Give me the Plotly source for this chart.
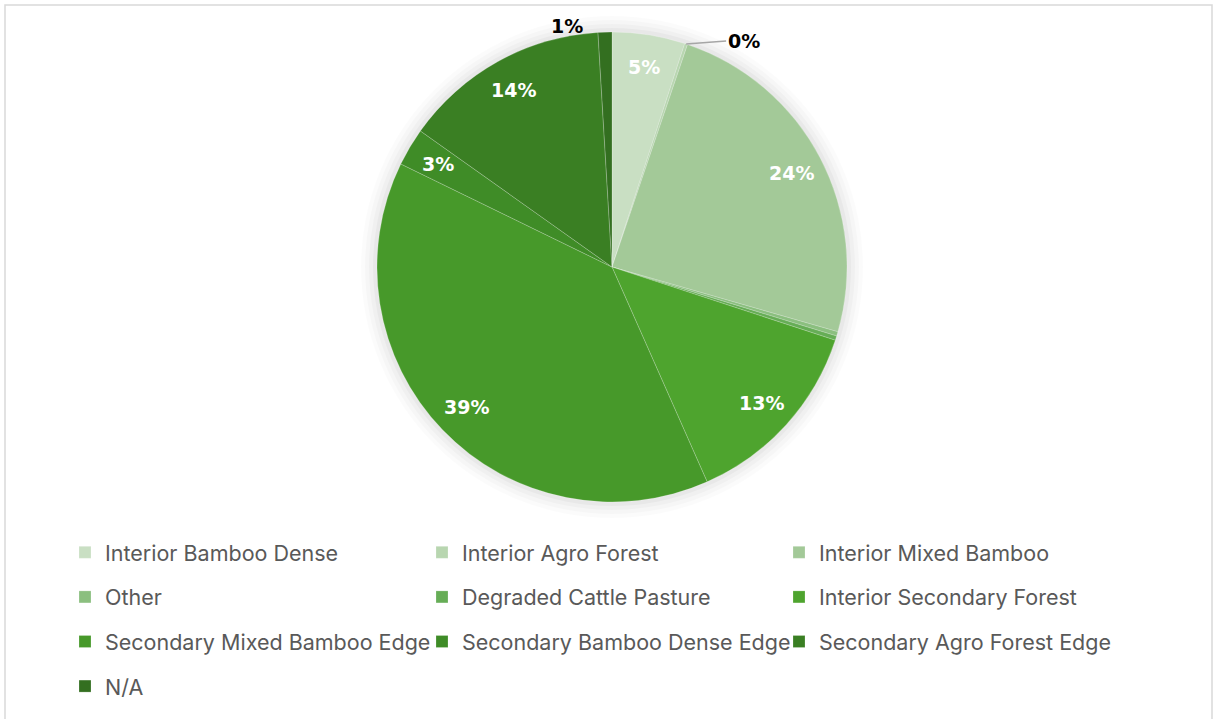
import math
import plotly.graph_objects as go

# Share of sampled area by habitat class (%)
categories = [
    "Interior Bamboo Dense",
    "Interior Agro Forest",
    "Interior Mixed Bamboo",
    "Other",
    "Degraded Cattle Pasture",
    "Interior Secondary Forest",
    "Secondary Mixed Bamboo Edge",
    "Secondary Bamboo Dense Edge",
    "Secondary Agro Forest Edge",
    "N/A",
]
shares = [5.0, 0.2, 24.2, 0.3, 0.3, 13.3, 38.8, 2.6, 14.2, 0.95]

colors = [
    "#c9dfc3", "#b8d6b0", "#a3c998", "#8bbf7f", "#66ad56",
    "#4ea42e", "#47992a", "#3f8c27", "#3a7f23", "#336f20",
]
# how each slice's percentage label is shown
label_mode = ["inside", "leader", "inside", "hidden", "hidden",
              "inside", "inside", "inside", "inside", "above"]

W, H = 1215, 719
cx, cy, r = 612, 267, 235

legend_labels = [
    f"<span style='font-size:21.5px;baseline-shift:4px'>{c}</span>" for c in categories
]

fig = go.Figure(
    go.Pie(
        labels=legend_labels,
        values=shares,
        sort=False,
        direction="clockwise",
        rotation=0,
        marker=dict(colors=colors, line=dict(color="rgba(255,255,255,0.35)", width=0.6)),
        textinfo="none",
        domain=dict(x=[(cx - r) / W, (cx + r) / W], y=[1 - (cy + r) / H, 1 - (cy - r) / H]),
        hoverinfo="label+percent",
    )
)


def polar_to_paper(angle_deg, rad):
    """Clockwise angle from 12 o'clock and radius in px -> paper coords."""
    a = math.radians(angle_deg)
    px = cx + rad * math.sin(a)
    py = cy - rad * math.cos(a)
    return px / W, 1 - py / H


total = sum(shares)
annotations = []
start = 0.0
label_font = dict(family="DejaVu Sans, Liberation Sans, Arial", size=19)
for v, mode in zip(shares, label_mode):
    span = v / total * 360
    mid = start + span / 2
    start += span
    txt = f"<b>{round(v / total * 100)}%</b>"
    if mode == "inside":
        x, y = polar_to_paper(mid, 0.86 * r)
        annotations.append(dict(x=x, y=y, xref="paper", yref="paper", text=txt,
                                xanchor="center", yanchor="middle",
                                showarrow=False, font=dict(color="white", **label_font)))
    elif mode == "leader":
        x, y = polar_to_paper(mid, r)
        annotations.append(dict(x=x, y=y, xref="paper", yref="paper", text=txt,
                                showarrow=True, arrowhead=0, arrowwidth=1.5,
                                arrowcolor="#a6a6a6", ax=40, ay=-3,
                                xanchor="left", yanchor="middle",
                                font=dict(color="black", **label_font)))
    elif mode == "above":
        x, y = polar_to_paper(mid, r)
        annotations.append(dict(x=x, y=y, xref="paper", yref="paper", text=txt,
                                showarrow=False, xshift=-38, xanchor="center",
                                yanchor="bottom", yshift=-7,
                                font=dict(color="black", **label_font)))

# soft halo around the pie
shapes = []
for grow, op in [(16, 0.015), (12, 0.02), (8, 0.025), (4, 0.03)]:
    rr = r + grow
    shapes.append(dict(
        type="circle", xref="paper", yref="paper",
        x0=(cx - rr) / W, x1=(cx + rr) / W,
        y0=1 - (cy + rr) / H, y1=1 - (cy - rr) / H,
        fillcolor=f"rgba(0,0,0,{op})", line=dict(width=0), layer="below",
    ))
# chart-area frame
shapes.append(dict(
    type="rect", xref="paper", yref="paper",
    x0=5 / W, x1=1212 / W, y0=-0.01, y1=1 - 5 / H,
    line=dict(color="#d9d9d9", width=1.5), fillcolor="rgba(0,0,0,0)", layer="below",
))

fig.update_layout(
    width=W, height=H,
    margin=dict(l=0, r=0, t=0, b=0),
    paper_bgcolor="white",
    plot_bgcolor="white",
    shapes=shapes,
    annotations=annotations,
    showlegend=True,
    legend=dict(
        orientation="h",
        x=65 / W, xanchor="left",
        y=1 - 525 / H, yanchor="top",
        entrywidth=312, entrywidthmode="pixels",
        font=dict(family="Inter, Open Sans, Liberation Sans", size=32, color="#595959"),
        traceorder="normal",
        itemclick=False,
    ),
)

fig.write_html("out.html")
